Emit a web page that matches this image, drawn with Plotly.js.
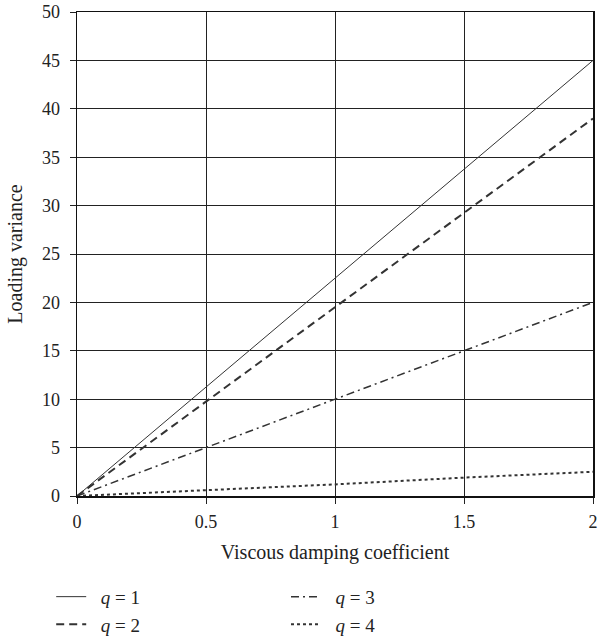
<!DOCTYPE html>
<html><head><meta charset="utf-8">
<script src="https://cdn.plot.ly/plotly-3.0.1.min.js"></script>
<style>body{margin:0;background:#fff}</style>
</head><body><div id="chart" style="width:603px;height:638px"></div>
<script>
const xVals = [0, 0.5, 1, 1.5, 2];
const q1 = [0, 11.25, 22.5, 33.75, 45];
const q2 = [0, 9.75, 19.5, 29.25, 39];
const q3 = [0, 5, 10, 15, 20];
const q4 = [0, 0.6, 1.2, 1.9, 2.5];
const names = ['<i>q</i> = 1', '<i>q</i> = 2', '<i>q</i> = 3', '<i>q</i> = 4'];
const xTicks = [0, 0.5, 1, 1.5, 2];
const yTicks = [0, 5, 10, 15, 20, 25, 30, 35, 40, 45, 50];

const col = '#333';
const pad = '\u00a0\u00a0';
const traces = [
  {x: xVals, y: q1, name: pad + names[0], mode: 'lines', line: {color: col, width: 1, dash: 'solid'}, legend: 'legend'},
  {x: xVals, y: q2, name: pad + names[1], mode: 'lines', line: {color: col, width: 2, dash: '8px,5px'}, legend: 'legend'},
  {x: xVals, y: q3, name: pad + names[2], mode: 'lines', line: {color: col, width: 1.5, dash: '8px,4px,2px,4px'}, legend: 'legend2'},
  {x: xVals, y: q4, name: pad + names[3], mode: 'lines', line: {color: col, width: 2, dash: '3px,3px'}, legend: 'legend2'}
];
const fam = 'Liberation Serif, DejaVu Serif, serif';
const tickFont = {family: fam, size: 18, color: '#222'};
const titleFont = {family: fam, size: 20, color: '#222'};
const legFont = {family: fam, size: 19, color: '#222'};
const legCommon = {orientation: 'v', yanchor: 'top', xanchor: 'left', font: legFont,
                   bgcolor: 'rgba(0,0,0,0)', tracegroupgap: 0, traceorder: 'normal'};
const layout = {
  width: 603, height: 638,
  margin: {l: 77, r: 10, t: 12, b: 142, autoexpand: false},
  paper_bgcolor: '#fff', plot_bgcolor: '#fff',
  font: tickFont,
  showlegend: true,
  legend: Object.assign({x: -0.05, y: -0.169}, legCommon),
  legend2: Object.assign({x: 0.405, y: -0.169}, legCommon),
  xaxis: {range: [0, 2], tickvals: xTicks, ticktext: xTicks.map(String),
          showgrid: true, gridcolor: '#222', gridwidth: 1, zeroline: false,
          showline: true, linecolor: '#111', linewidth: 1.5, mirror: true,
          ticks: 'outside', ticklen: 6, tickcolor: '#222', tickfont: tickFont,
          ticklabelstandoff: 3,
          title: {text: 'Viscous damping coefficient', font: titleFont, standoff: 14}},
  yaxis: {range: [0, 50], tickvals: yTicks,
          showgrid: true, gridcolor: '#222', gridwidth: 1, zeroline: false,
          showline: true, linecolor: '#111', linewidth: 1.5, mirror: true,
          ticks: 'outside', ticklen: 6, tickcolor: '#222', tickfont: tickFont,
          ticklabelstandoff: 6,
          title: {text: 'Loading variance', font: titleFont, standoff: 14}}
};
Plotly.newPlot('chart', traces, layout, {displayModeBar: false, staticPlot: true});
</script></body></html>
